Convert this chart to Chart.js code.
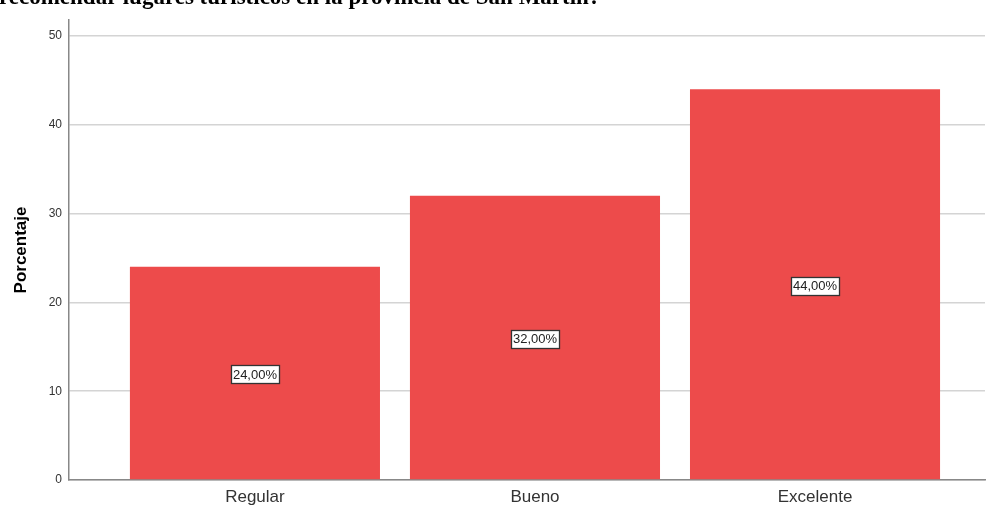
<!DOCTYPE html>
<html>
<head>
<meta charset="utf-8">
<script src="https://cdn.jsdelivr.net/npm/chart.js@4/dist/chart.umd.min.js"></script>
<style>
  html, body { margin:0; padding:0; background:#fff; overflow:hidden; }
  #wrap { position:relative; width:987px; height:510px; }
  #title { position:absolute; left:-1px; top:-16px; font:bold 23px "Liberation Serif", "Times New Roman", serif; color:#000; white-space:nowrap; z-index:2; }
  canvas { position:absolute; left:0; top:0; }
</style>
</head>
<body>
<div id="wrap">
  <div id="title">recomendar lugares turísticos en la provincia de San Martín?</div>
  <canvas id="c" width="987" height="510"></canvas>
</div>
<script>
const categories = ["Regular", "Bueno", "Excelente"];
const percentages = [24, 32, 44];
const valueLabels = ["24,00%", "32,00%", "44,00%"];
const yTicks = [0, 10, 20, 30, 40, 50];

const labelPlugin = {
  id: 'boxLabels',
  afterDatasetsDraw(chart) {
    const ctx = chart.ctx;
    const meta = chart.getDatasetMeta(0);
    const yScale = chart.scales.y;
    ctx.save();
    ctx.font = '13px "Liberation Sans", Arial, sans-serif';
    ctx.textAlign = 'center';
    ctx.textBaseline = 'middle';
    meta.data.forEach((bar, i) => {
      const cx = bar.x;
      const cy = yScale.getPixelForValue(percentages[i] / 2) + 1;
      const txt = valueLabels[i];
      const w = ctx.measureText(txt).width + 4;
      const h = 18;
      ctx.fillStyle = '#ffffff';
      ctx.fillRect(Math.round(cx - w / 2) + 0.5, Math.round(cy - h / 2) + 0.5, Math.round(w), h);
      ctx.strokeStyle = '#333333';
      ctx.lineWidth = 1.3;
      ctx.strokeRect(Math.round(cx - w / 2) + 0.5, Math.round(cy - h / 2) + 0.5, Math.round(w), h);
      ctx.fillStyle = '#222222';
      ctx.fillText(txt, cx, cy + 1);
    });
    ctx.restore();
  }
};

new Chart(document.getElementById('c'), {
  type: 'bar',
  data: {
    datasets: [{
      data: percentages.map((v, i) => ({ x: i, y: v })),
      backgroundColor: '#ED4B4B',
      borderWidth: 0,
      barPercentage: 0.893,
      categoryPercentage: 1.0
    }]
  },
  options: {
    responsive: false,
    animation: false,
    layout: { padding: { top: 20, right: 2, left: 0, bottom: 0 } },
    plugins: { legend: { display: false }, tooltip: { enabled: false } },
    scales: {
      x: {
        type: 'linear',
        offset: false,
        min: -0.664,
        max: 2.607,
        afterBuildTicks(scale) { scale.ticks = categories.map((c, i) => ({ value: i })); },
        afterFit(scale) { scale.height = 30; },
        ticks: {
          callback: (v) => categories[v] !== undefined ? categories[v] : '',
          font: { family: '"Liberation Sans", Arial, sans-serif', size: 17 },
          color: '#333333',
          padding: 7,
          maxRotation: 0
        },
        grid: { display: false, drawTicks: false },
        border: { display: true, color: '#888888', width: 1.5 }
      },
      y: {
        min: 0,
        max: 51.8,
        afterBuildTicks(scale) { scale.ticks = yTicks.map(v => ({ value: v })); },
        afterFit(scale) { scale.width = 69; },
        ticks: {
          font: { family: '"Liberation Sans", Arial, sans-serif', size: 12 },
          color: '#333333',
          padding: 7
        },
        grid: { color: '#d4d4d4', lineWidth: 1.5, drawTicks: false },
        border: { display: true, color: '#888888', width: 1.5 },
        title: {
          display: true,
          text: 'Porcentaje',
          font: { family: '"Liberation Sans", Arial, sans-serif', size: 17, weight: 'bold' },
          color: '#000000',
          padding: { top: 11, bottom: 0 }
        }
      }
    }
  },
  plugins: [labelPlugin]
});
</script>
</body>
</html>
